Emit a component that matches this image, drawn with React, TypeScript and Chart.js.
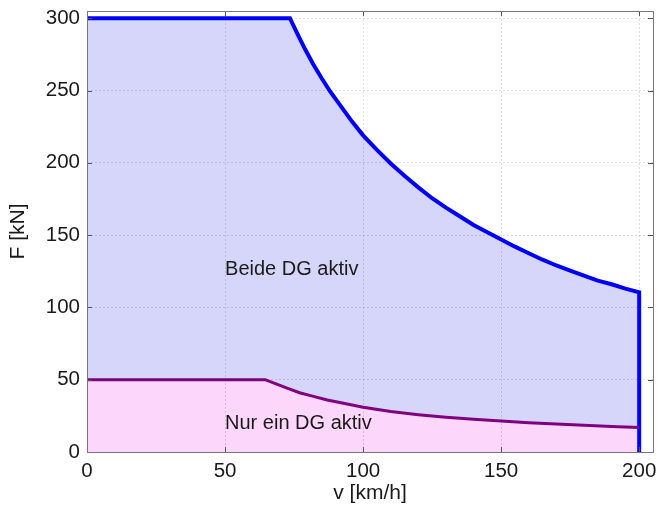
import React, { useEffect, useRef } from "react";
import { Chart, registerables } from "chart.js";

Chart.register(...registerables);

// Traction force curve with both diesel generators active
const beideV = [0, 73.5, 76, 79, 82, 85, 88, 92, 96, 100, 105, 110, 115, 120, 125, 130, 135, 140, 145, 150, 155, 160, 165, 170, 175, 180, 185, 190, 195, 200, 200];
const beideF = [300, 300, 290, 278.5, 268, 258.5, 249.5, 239, 228.5, 219, 209, 199.5, 191, 183, 175.5, 169, 163, 157, 152, 147, 142, 137.5, 133, 129, 125.5, 122, 118.5, 116, 113, 110.5, 0];

// Traction force curve with only one diesel generator active
const nurV = [0, 64.5, 68, 72, 77, 82, 87, 92, 100, 110, 120, 130, 140, 150, 160, 170, 180, 190, 200];
const nurF = [50, 50, 47.5, 44.5, 41, 38.5, 36, 34, 31, 28, 25.8, 24, 22.6, 21.4, 20.3, 19.3, 18.5, 17.7, 17];

const xTicks = [0, 50, 100, 150, 200];
const yTicks = [0, 50, 100, 150, 200, 250, 300];

const labelTexts = ["Beide DG aktiv", "Nur ein DG aktiv"];
const labelV = [50, 50];
const labelF = [126, 20];

const FONT = "'Liberation Sans', Arial, Helvetica, sans-serif";

const framePlugin = {
  id: "framePlugin",
  afterDraw(chart: any) {
    const { ctx, chartArea } = chart;
    const { left, right, top, bottom } = chartArea;
    const xs = chart.scales.x;
    const ys = chart.scales.y;
    ctx.save();
    // annotations
    ctx.fillStyle = "#1a1a1a";
    ctx.font = `20px ${FONT}`;
    ctx.textAlign = "left";
    ctx.textBaseline = "middle";
    labelTexts.forEach((t, i) => {
      ctx.fillText(t, xs.getPixelForValue(labelV[i]), ys.getPixelForValue(labelF[i]));
    });
    // inner tick marks
    ctx.strokeStyle = "#555";
    ctx.lineWidth = 1;
    ctx.beginPath();
    xTicks.forEach((v) => {
      const px = Math.round(xs.getPixelForValue(v)) + 0.5;
      ctx.moveTo(px, bottom);
      ctx.lineTo(px, bottom - 5);
      ctx.moveTo(px, top);
      ctx.lineTo(px, top + 5);
    });
    yTicks.forEach((v) => {
      const py = Math.round(ys.getPixelForValue(v)) + 0.5;
      ctx.moveTo(left, py);
      ctx.lineTo(left + 5, py);
      ctx.moveTo(right, py);
      ctx.lineTo(right - 5, py);
    });
    ctx.stroke();
    // frame
    ctx.strokeStyle = "#777";
    ctx.strokeRect(Math.round(left) + 0.5, Math.round(top) + 0.5, Math.round(right - left), Math.round(bottom - top));
    ctx.restore();
  },
};

export default function App() {
  const ref = useRef<HTMLCanvasElement | null>(null);

  useEffect(() => {
    if (!ref.current) return;
    const chart = new Chart(ref.current, {
      type: "line",
      data: {
        datasets: [
          {
            label: "Nur ein DG aktiv",
            data: nurV.map((v, i) => ({ x: v, y: nurF[i] })),
            borderColor: "#800080",
            borderWidth: 3,
            backgroundColor: "#fcd7fb",
            fill: "origin",
            pointRadius: 0,
            tension: 0,
          },
          {
            label: "Beide DG aktiv",
            data: beideV.map((v, i) => ({ x: v, y: beideF[i] })),
            borderColor: "#0000ff",
            borderWidth: 4,
            backgroundColor: "#d6d6fa",
            fill: "origin",
            pointRadius: 0,
            tension: 0,
          },
        ],
      },
      options: {
        animation: false,
        responsive: true,
        maintainAspectRatio: false,
        layout: { padding: { left: 0, top: 11, right: 4, bottom: 0 } },
        plugins: {
          legend: { display: false },
          tooltip: { enabled: false },
          filler: { drawTime: "beforeDatasetsDraw" },
        },
        scales: {
          x: {
            type: "linear",
            min: 0,
            max: 205,
            afterBuildTicks: (s: any) => {
              s.ticks = xTicks.map((v) => ({ value: v }));
            },
            afterFit: (s: any) => {
              s.height = 54;
              s.paddingLeft = 0;
              s.paddingRight = 0;
            },
            grid: { color: "rgba(0,0,0,0.13)", drawTicks: false, z: 1 },
            border: { display: false, dash: [2, 2] },
            ticks: {
              padding: 7,
              color: "#1a1a1a",
              font: { family: FONT, size: 20.5 },
              maxRotation: 0,
            },
            title: {
              display: true,
              text: "v [km/h]",
              color: "#1a1a1a",
              font: { family: FONT, size: 21 },
              padding: { top: 0, bottom: 0 },
            },
          },
          y: {
            type: "linear",
            min: 0,
            max: 305,
            afterBuildTicks: (s: any) => {
              s.ticks = yTicks.map((v) => ({ value: v }));
            },
            afterFit: (s: any) => {
              s.width = 87;
              s.paddingTop = 0;
              s.paddingBottom = 0;
            },
            grid: { color: "rgba(0,0,0,0.13)", drawTicks: false, z: 1 },
            border: { display: false, dash: [2, 2] },
            ticks: {
              padding: 7,
              color: "#1a1a1a",
              font: { family: FONT, size: 20.5 },
            },
            title: {
              display: true,
              text: "F [kN]",
              color: "#1a1a1a",
              font: { family: FONT, size: 21 },
              padding: { top: 6, bottom: 0 },
            },
          },
        },
      },
      plugins: [framePlugin],
    });
    return () => chart.destroy();
  }, []);

  return (
    <div style={{ position: "absolute", left: 0, top: 0, width: 657, height: 506 }}>
      <canvas ref={ref} />
    </div>
  );
}
